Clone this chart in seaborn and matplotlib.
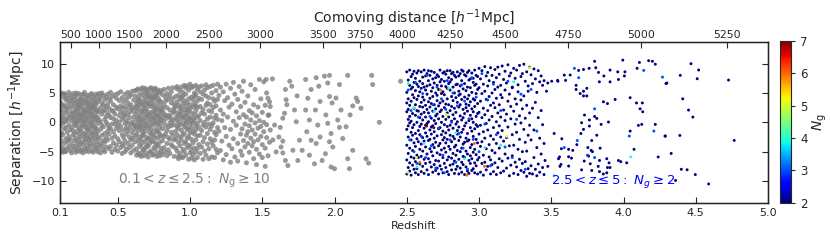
import numpy as np
import pandas as pd
import matplotlib
matplotlib.use("Agg")
import matplotlib.pyplot as plt
import seaborn as sns
from matplotlib.cm import ScalarMappable
from matplotlib.colors import Normalize

# ---------------- data ----------------
# grey sample, 0.1 < z <= 2.5 : dense band, one redshift slice per row (z, separations)
gray_band = [
    (0.10, [4.8, 2.1, -0.7, -3.9, 1.2, -2.6, 3.5]),
    (0.11, [-4.9, 0.4, 3.1, -1.8, 5.0, -3.2, 1.9]),
    (0.12, [2.7, -0.2, -4.4, 4.3, -2.1, 0.9, -5.1]),
    (0.13, [1.5, -3.6, 4.9, -1.1, 2.9, -4.7, 0.1]),
    (0.14, [-2.8, 3.8, 0.6, -5.0, 2.2, -0.9, 4.5]),
    (0.15, [0.3, -1.7, 4.1, -3.3, 1.8, -4.5, 2.6]),
    (0.16, [3.3, -4.1, 1.1, -2.4, 5.1, -0.5, -3.0]),
    (0.17, [-1.3, 2.4, -4.8, 4.6, 0.8, -2.9, 3.7]),
    (0.18, [4.2, -0.8, 1.6, -3.7, -5.2, 2.9, 0.2]),
    (0.19, [-2.2, 0.9, 3.6, -4.2, 4.9, -1.4, 1.7]),
    (0.20, [1.0, -3.1, 4.4, -0.3, 2.5, -4.6, 3.2, -1.9, 0.5]),
    (0.21, [-0.6, 3.9, -2.7, 5.0, 1.4, -4.0, 2.0, -5.1, 0.0]),
    (0.22, [2.8, -1.5, 4.7, -3.5, 0.7, -0.1, 3.4, -4.8, 1.9]),
    (0.23, [-2.0, 1.3, 3.0, -4.3, 4.9, -0.9, 0.3, -3.0, 2.3]),
    (0.24, [4.0, -2.5, 0.8, -5.0, 2.6, -1.2, 3.6, -3.8, 1.5]),
    (0.25, [0.2, 2.9, -1.6, 4.5, -3.4, 1.1, -4.7, 3.9, -0.4]),
    (0.26, [-3.7, 1.7, 4.8, -0.7, 2.2, -2.3, 0.6, -5.2, 3.3]),
    (0.27, [2.0, -4.4, 3.7, 0.1, -1.9, 5.1, -2.9, 1.2, -0.5]),
    (0.28, [-1.0, 4.3, -3.2, 1.6, 2.7, -4.9, 0.4, 3.5, -2.2]),
    (0.29, [3.1, -0.2, -2.6, 4.6, 1.0, -3.9, 2.1, -1.3, -4.5]),
    (0.30, [0.7, -3.0, 2.5, -1.7, 4.1, -5.0, 3.4, -0.8, 1.8]),
    (0.31, [-2.4, 4.7, 0.0, -4.1, 1.5, 3.0, -1.1, 2.3, -3.5]),
    (0.32, [1.3, -1.8, 3.8, -4.8, 0.5, 2.6, -2.9, 4.9, -0.3]),
    (0.33, [4.4, -2.1, 1.9, -0.6, -3.7, 3.2, 0.9, -5.1, 2.4]),
    (0.34, [-0.9, 2.8, -4.2, 4.0, 1.1, -2.7, 0.2, 3.6, -1.4]),
    (0.35, [2.2, -3.3, 0.6, 4.8, -1.0, -4.6, 1.7, 3.1, -2.0]),
    (0.36, [-1.6, 3.5, -0.2, -3.8, 2.0, 4.5, -2.5, 0.9, -5.0]),
    (0.37, [0.4, -2.8, 3.9, -4.4, 1.8, 4.9]),
    (0.38, [-1.2, 2.5, -3.6, 4.2, 0.1, -5.2]),
    (0.39, [3.3, -0.5, -4.0, 1.4, -2.2, 5.0]),
    (0.40, [-3.1, 1.9, 4.6, -0.8, 2.9, -4.7]),
    (0.41, [2.1, -1.9, 0.5, -3.4, 3.8, -5.0]),
    (0.42, [4.3, -2.6, 1.0, -4.2, 0.0, 2.7]),
    (0.43, [-0.4, 3.1, -3.0, 4.8, -1.5, 1.6]),
    (0.44, [1.2, -4.5, 2.4, -0.9, 4.0, -2.0]),
    (0.45, [3.6, -1.1, -4.1, 0.8, 5.1]),
    (0.46, [-2.7, 2.0, -0.3, 4.4, -5.1]),
    (0.47, [0.6, -3.5, 3.0, -1.6, 1.9]),
    (0.48, [4.7, -2.3, 1.4, -4.6, -0.2]),
    (0.49, [-1.0, 2.6, -3.9, 0.3, 4.1]),
    (0.50, [2.3, -0.6, -2.8, 4.9, -4.9]),
    (0.51, [-3.3, 1.1, 3.7, -1.4, 0.0]),
    (0.52, [1.7, -4.3, 2.8, -0.7, 5.2]),
    (0.53, [-2.1, 0.5, 4.2, -3.7, 2.4, -5.3]),
    (0.54, [3.5, -1.3, 0.9, -4.0, 1.6, -2.6]),
    (0.55, [-0.2, 2.7, -3.2, 4.8, -5.0, 1.2]),
    (0.56, [4.0, -2.0, 0.3, -4.6, 2.1, -0.9]),
    (0.57, [1.4, -3.6, 3.3, -1.5, 5.1, -0.1]),
    (0.58, [-2.5, 0.8, 2.6, -4.3, 4.4, -1.0]),
    (0.59, [3.0, -0.4, -3.0, 1.8, -5.2, 4.7]),
    (0.60, [-1.8, 2.2, 0.1, -3.9, 5.3, -2.7]),
    (0.61, [0.9, -4.8, 3.8, -1.2, 2.5, -0.3]),
    (0.62, [4.5, -2.4, 1.5, -3.3, -0.6, 5.4]),
    (0.63, [-0.8, 3.2, -4.5, 1.9, 5.5, -2.0, 0.4, -5.6, 2.7]),
    (0.64, [2.4, -1.4, 4.1, -3.1, 0.9, -5.2, 3.6, -0.2, 5.7]),
    (0.65, [-3.8, 1.2, -0.7, 4.8, -2.5, 2.9, -5.5, 0.3, 3.9]),
    (0.66, [0.6, -2.9, 3.4, -4.2, 5.6, -1.1, 1.8, -0.4, -5.8]),
    (0.67, [4.6, -1.7, 2.1, -3.5, 0.0, -5.0, 3.1, 5.9, -2.3]),
    (0.68, [-0.9, 3.7, -4.7, 1.4, 2.6, -2.1, 5.2, -5.7, 0.7]),
    (0.69, [1.9, -3.2, 0.2, 4.3, -1.5, -4.4, 3.0, 5.8, -0.6]),
    (0.70, [-2.6, 2.3, 4.9, -0.3, 1.1, -5.3, 3.5, -3.9, 5.5]),
    (0.71, [3.2, -1.0, -4.1, 0.8, 5.0, -2.8, 1.6, -5.9, 4.2]),
    (0.72, [0.1, -3.6, 2.8, -1.8, 4.5, -5.1, 5.7, -0.7, 1.3]),
    (0.73, [-1.3, 4.0, -2.4, 1.7, -4.9, 3.3, 0.5, 5.9, -3.0]),
    (0.74, [2.6, -0.5, -3.3, 5.3, -5.6, 1.0, 3.8, -1.9, 4.6]),
    (0.75, [-4.3, 0.7, 3.0, -2.2, 5.6, -0.1, 1.9, -5.4, 4.2]),
    (0.76, [1.5, -2.7, 4.4, -4.6, 0.3, 2.4, -1.2, 5.8, -3.5]),
    (0.77, [-0.4, 3.6, -3.9, 1.2, 5.1, -5.8, 2.2, -1.6, 4.8]),
    (0.78, [4.1, -1.5, 0.9, -4.0, 2.9, -2.6, 5.5, -5.2, 0.0]),
    (0.79, [-2.0, 2.0, 5.0, -3.4, 0.6, -5.7, 3.7, -0.8, 1.4]),
    (0.80, [3.4, -0.2, -4.5, 1.8, -2.3, 5.4, 0.4, -5.0, 2.5]),
    (0.81, [-1.1, 4.7, -3.1, 0.9, 2.2, -5.5]),
    (0.82, [2.9, -2.4, 0.2, -4.3, 5.6, 1.5]),
    (0.83, [-0.5, 3.6, -5.0, 1.1, -2.0, 4.3]),
    (0.84, [4.9, -3.6, 0.7, -1.4, 2.5, -5.7]),
    (0.85, [1.2, -0.8, 3.9, -4.7, 5.8, -2.6]),
    (0.86, [-2.9, 2.1, -0.1, 4.5, -5.3, 1.0]),
    (0.87, [3.3, -1.7, 0.5, -3.8, 5.2, -0.6]),
    (0.88, [-4.1, 1.6, 4.0, -2.2, 0.3, 5.9]),
    (0.89, [2.4, -3.0, -0.4, 3.1, -5.8, 1.9]),
    (0.90, [-1.5, 4.4, 0.8, -4.4, 2.7, -2.8]),
    (0.91, [0.4, -2.1, 3.5, -4.9, 5.7, 1.6, -0.7, 6.1]),
    (0.92, [4.6, -3.4, 1.1, -1.0, 2.9, -5.8, 0.0, -6.2]),
    (0.93, [-2.5, 2.3, 5.4, -0.4, -4.0, 3.9, 1.4, -5.3]),
    (0.94, [1.8, -1.4, 4.2, -3.0, 0.6, 6.0, -5.9, 2.6]),
    (0.95, [-0.2, 3.2, -4.6, 5.1, -2.2, 1.0, -6.0, 4.5]),
    (0.96, [3.7, -1.9, 0.9, -3.6, 6.3, 2.1, -0.8, -5.0]),
    (0.97, [-3.3, 1.5, 4.8, -0.5, 2.8, -5.6, 0.3, 5.9]),
    (0.98, [2.2, -2.7, 0.1, 3.4, -4.3, 6.2, -1.2, 1.2]),
    (0.99, [-1.1, 4.0, -3.9, 1.9, 5.5, -6.3, 0.6, -2.4]),
    (1.00, [0.8, -0.3, 3.0, -5.2, 6.5, -1.8, 2.4, -4.1]),
    (1.01, [4.3, -2.9, 1.6, -0.9, 5.9, -4.8, 0.2, -6.1]),
    (1.02, [-1.6, 2.6, -3.5, 6.1, 0.7, 3.8, -5.5, -0.1]),
    (1.03, [3.1, -4.4, 0.4, 5.0, -2.0, 1.3, -6.4, 4.4]),
    (1.04, [-0.6, 1.9, -3.0, 4.7, -5.1, 6.3, 2.8, -1.3]),
    (1.05, [2.5, -2.3, 5.6, -0.2, -4.5, 0.9, 3.6, -6.0]),
    (1.06, [-3.8, 1.1, 4.1, -0.9, 6.0]),
    (1.07, [0.3, -5.3, 2.7, -2.2, 5.2]),
    (1.08, [3.9, -1.4, -4.2, 1.6, 6.2]),
    (1.09, [-0.5, 2.2, -3.3, 4.8, -6.3]),
    (1.10, [1.4, -2.6, 5.5, -4.9, 0.0]),
    (1.11, [4.5, -0.8, -5.6, 2.9, 6.4]),
    (1.12, [-1.9, 3.3, 0.6, -3.7, 5.9]),
    (1.13, [2.0, -4.5, 4.2, -0.3, -6.2]),
    (1.14, [-2.8, 0.9, 6.1, -1.2, 3.0]),
    (1.15, [5.0, -3.4, 1.8, -5.9, -0.6]),
    (1.16, [-0.1, 2.5, -4.0, 6.3, 4.0]),
    (1.17, [3.6, -1.7, -6.0, 0.7, -3.0]),
    (1.18, [-4.6, 1.2, 5.4, -2.1, 2.8]),
    (1.19, [0.5, -0.9, 3.9, -5.2, 6.5]),
]

# grey sample, thinner part (z, separation)
gray_mid = [
    (1.20, 4.6), (1.20, -1.5), (1.21, 2.1), (1.21, -4.8), (1.21, 6.0), (1.22, 0.3),
    (1.22, -3.2), (1.23, 5.2), (1.23, -6.4), (1.23, 1.4), (1.24, -0.9), (1.24, 3.7),
    (1.25, -5.5), (1.25, 6.5), (1.25, -2.4), (1.26, 0.9), (1.26, 4.2), (1.27, -3.9),
    (1.27, 2.6), (1.28, -6.8), (1.28, -1.2), (1.28, 5.8), (1.29, 3.1), (1.29, -4.5),
    (1.30, 0.2), (1.30, 6.8), (1.30, -2.8), (1.31, -5.9), (1.31, 4.8), (1.32, 1.8),
    (1.32, -0.5), (1.33, -3.6), (1.33, 3.9), (1.33, -6.6), (1.34, 6.1), (1.34, 0.8),
    (1.35, -2.0), (1.35, -4.9), (1.35, 2.7), (1.36, -1.1), (1.36, 5.3), (1.36, -5.6),
    (1.37, 1.3), (1.37, -3.1), (1.37, 7.0), (1.38, -0.3), (1.38, -4.2), (1.38, 3.4),
    (1.39, -2.2), (1.39, -6.9), (1.39, 0.9), (1.40, 4.5), (1.40, -1.6), (1.40, -3.6),
    (1.41, 2.0), (1.41, -5.1), (1.41, -0.6), (1.42, 6.4), (1.42, -2.7), (1.42, 0.4),
    (1.43, -4.0), (1.43, 1.6), (1.43, -1.3), (1.44, 3.0), (1.44, -6.2), (1.44, -3.3),
    (1.45, -0.1), (1.45, -2.0), (1.45, 5.6), (1.46, 1.1), (1.46, -4.6), (1.46, -7.2),
    (1.47, -1.0), (1.47, 2.6), (1.47, -3.0), (1.48, 7.3), (1.48, -5.4), (1.48, 0.3),
    (1.49, -2.4), (1.49, 4.0), (1.49, -0.7), (1.50, -3.8), (1.50, 1.7), (1.50, -6.0),
    (1.51, -1.6), (1.51, 6.9), (1.51, 0.0), (1.52, -4.4), (1.52, 2.9), (1.52, -7.5),
    (1.53, -2.6), (1.53, 5.0), (1.53, -0.4), (1.54, 1.2), (1.54, -5.7), (1.55, -3.4),
    (1.55, 3.5),
]

gray_sparse = [
    (1.527, 7.3), (1.57, 7.4), (1.665, 3.85), (1.66, 5.6), (1.67, 3.0), (1.69, 7.0),
    (1.704, 6.15), (1.654, 1.55), (1.642, 0.7), (1.624, -0.86), (1.615, -2.5),
    (1.642, -3.2), (1.63, -4.2), (1.642, -5.2), (1.66, -6.5), (1.677, -7.36),
    (1.596, -5.05), (1.573, -3.0), (1.555, -1.3), (1.585, -0.46), (1.546, 1.26),
    (1.555, 2.7), (1.539, 4.1), (1.735, 0.1), (1.723, 2.1), (1.741, 4.5),
    (1.757, -3.05), (1.776, -4.77), (1.746, -6.5), (1.712, -4.77), (1.80, 7.3),
    (1.815, 4.1), (1.838, 5.6), (1.80, 2.1), (1.826, 0.4), (1.808, -1.6),
    (1.838, -3.05), (1.826, -5.6), (1.861, -7.07), (1.873, 7.6), (1.891, 6.15),
    (1.90, 3.56), (1.868, 2.1), (1.884, -0.46), (1.90, -2.5), (1.873, -3.6),
    (1.914, -6.5), (1.93, 7.87), (1.965, 8.0), (1.953, 6.7), (1.965, 4.4),
    (1.983, 3.3), (1.94, 1.26), (1.953, -0.17), (1.976, -1.9), (1.965, -3.3),
    (1.988, -4.2), (1.937, -5.34), (1.976, -7.6), (2.0, -7.9), (2.01, 4.14),
    (2.034, 6.44), (2.045, 2.1), (2.022, 0.4), (2.034, -0.86), (2.057, -2.76),
    (2.091, 8.0), (2.08, -0.75), (2.091, -6.2), (2.103, -7.9), (2.126, -4.77),
    (2.108, 1.26), (2.15, 4.14), (2.16, 3.56), (2.183, 2.4), (2.218, -6.2),
    (2.236, -6.95), (2.257, 8.0), (2.264, 6.44), (2.31, 0.0), (2.126, 2.8),
    (2.457, 7.0),
]

# coloured sample, 2.5 < z <= 5 : N_g = 2, dense slices (z, separations)
ng2_band = [
    (2.50, [8.6, 5.1, 1.8, -1.2, -3.9, -6.4, -8.8, 3.3]),
    (2.51, [7.2, 4.0, 0.5, -2.5, -5.3, -7.7, 2.2, -0.6]),
    (2.52, [8.9, 6.3, 2.9, -0.1, -4.4, -6.9, 1.0, -8.3]),
    (2.53, [5.7, 3.6, -1.7, -3.0, -5.9, 7.8, 0.2, -9.0]),
    (2.54, [8.2, 4.7, 1.5, -2.2, -4.8, -7.3, 6.0, -0.9]),
    (2.55, [6.8, 2.4, -0.4, -3.5, -6.1, 8.7, -8.0, 4.2]),
    (2.56, [7.5, 5.4, 1.2, -1.9, -4.1, -6.7, 3.0, -8.6]),
    (2.57, [8.4, 3.9, 0.0, -2.8, -5.6, -7.9, 6.5, 2.0]),
    (2.58, [6.1, 4.5, 1.9, -1.4, -3.3, -6.0, 8.8, -8.9]),
    (2.59, [7.0, 2.7, -0.7, -4.6, -7.1, 5.2, 0.8, -2.1]),
    (2.60, [8.6, 5.8, 3.4, -0.3, -3.7, -5.8, -8.4, 1.4]),
    (2.61, [7.7, 4.3, 0.4, -2.6, -4.9, -7.5, 2.6, 6.6]),
    (2.62, [8.9, 6.0, 1.7, -1.0, -3.2, -6.3, -8.7, 3.8]),
    (2.63, [5.5, 2.9, -0.5, -4.2, -7.0, 7.9, -1.8, 0.9]),
    (2.64, [8.3, 4.8, 2.2, -2.4, -5.4, -8.1, 6.2, -0.2]),
    (2.65, [7.1, 3.5, 0.1, -3.1, -6.2, 8.8, -8.9, 1.6]),
    (2.66, [6.4, 4.1, 2.6, -1.3, -4.5, -6.8, 8.0, -2.9]),
    (2.67, [8.7, 5.3, 0.7, -2.0, -5.0, -7.6, 3.2, -0.8]),
    (2.68, [7.4, 1.9, -0.6, -3.8, -5.7, -8.5, 5.9, 4.4]),
    (2.69, [8.5, 6.7, 3.0, -1.6, -4.3, -7.2, 0.3, -2.7]),
    (2.70, [5.0, 2.3, -0.2, -3.4, -6.5, 7.6, -8.2, 1.1]),
    (2.71, [8.1, 4.6, 1.4, -2.3, -5.2, 6.3, -7.8, 3.7]),
    (2.72, [7.8, 5.6, 0.6, -1.1, -4.0, -6.6, -8.8, 2.8]),
    (2.73, [8.9, 3.3, -0.9, -3.6, -5.5, 6.9, 1.8, -7.4]),
    (2.74, [6.2, 4.9, 2.1, -2.1, -4.7, -8.0, 7.3, 0.0]),
    (2.75, [8.4, 5.2, 1.0, -1.5, -3.0, -6.0, -8.6, 3.6]),
    (2.76, [7.0, 2.5, -0.4, -4.4, -7.0, 8.6, 4.7, -2.6]),
    (2.77, [8.2, 6.1, 3.1, -1.8, -5.1, -7.7, 0.5, -3.5]),
    (2.78, [5.8, 4.0, 1.6, -0.7, -2.9, -6.4, 8.8, -8.4]),
    (2.79, [7.6, 3.0, -1.3, -4.1, -5.9, 6.6, 0.9, -8.9]),
    (2.80, [8.8, 5.5, 2.0, -2.2, -4.6, -7.3, 6.9, -0.5]),
    (2.81, [7.3, 4.4, 0.2, -3.3, -6.1, 8.3, -8.1, 2.7]),
    (2.82, [6.0, 3.7, 1.3, -1.0, -5.3, -7.1, 8.5, -2.4]),
    (2.83, [8.0, 5.0, 2.4, -2.8, -4.2, -6.6, -8.7, 0.6]),
    (2.84, [7.7, 4.2, -0.3, -3.9, -5.6, 6.4, 1.7, -8.0]),
    (2.85, [8.6, 6.5, 3.4, -1.4, -4.8, -7.5, 0.1, -2.0]),
    (2.86, [5.3, 2.6, -0.8, -3.1, -6.3, 7.9, -8.8, 4.6]),
    (2.87, [8.3, 4.8, 1.1, -2.5, -5.0, -7.8, 6.2, 3.0]),
    (2.88, [7.1, 3.9, 0.4, -1.7, -4.4, -6.8, 8.9, -8.5]),
    (2.89, [8.7, 5.7, 2.2, -3.7, -5.8, -7.2, 0.8, -1.2]),
    (2.90, [6.6, 4.3, 1.5, -0.6, -3.4, -6.0, 8.1, -8.9]),
    (2.91, [7.9, 3.1, -0.1, -2.7, -4.9, -7.6, 5.4, 2.5]),
    (2.92, [8.5, 6.0, 1.9, -1.9, -5.4, -8.3, 4.0, -3.2]),
    (2.93, [7.2, 4.6, 0.3, -3.0, -6.5, 8.8, -8.7, 2.9]),
    (2.94, [5.9, 3.5, -0.9, -4.3, -5.7, 7.4, 1.2, -7.0]),
    (2.95, [8.4, 5.1, 2.3, -1.5, -3.8, -6.2, -8.2, 0.6]),
    (2.96, [7.5, 4.0, 0.0, -2.4, -5.1, 6.8, -7.9, 1.8]),
    (2.97, [8.9, 6.3, 2.7, -1.1, -4.6, -6.9, 3.8, -8.6]),
    (2.98, [6.5, 4.9, 1.0, -2.9, -5.5, 8.0, -0.4, -7.4]),
    (2.99, [7.8, 3.2, -0.7, -3.5, -6.4, 5.6, 1.5, -8.8]),
    (3.00, [9.2, 5.9, 1.7, -2.0, -6.0]),
    (3.01, [7.4, 3.6, -0.5, -4.1, -8.5]),
    (3.02, [8.8, 4.9, 0.8, -3.3, -7.0]),
    (3.03, [6.5, 2.4, -1.6, -5.6, -9.0]),
    (3.04, [9.5, 5.3, 1.3, -2.7, -6.8]),
    (3.05, [7.9, 3.9, -0.2, -4.5, -8.1]),
    (3.06, [8.5, 6.2, 2.0, -1.3, -7.5]),
    (3.07, [7.1, 4.4, 0.4, -3.8, -5.9]),
    (3.08, [9.3, 2.9, -2.3, -6.4, -8.8]),
    (3.09, [8.0, 5.0, 1.0, -4.8, -7.2]),
    (3.10, [6.8, 3.3, -0.9, -2.9, -8.4]),
    (3.11, [9.0, 5.6, 2.5, -5.2, -6.9]),
    (3.12, [7.6, 4.1, 0.1, -3.6, -8.9]),
    (3.13, [9.4, 6.0, 1.6, -1.8, -7.7]),
    (3.14, [8.2, 3.0, -0.6, -4.4, -6.2]),
    (3.15, [6.3, 4.7, 0.9, -2.5, -8.6]),
    (3.16, [9.6, 4.2, -1.4, -6.6]),
    (3.17, [7.3, 2.1, -3.2, -8.3]),
    (3.18, [8.7, 5.5, 0.3, -5.4]),
    (3.19, [6.7, 1.4, -2.6, -7.8]),
    (3.20, [9.8, 3.6, -0.8, -6.1]),
    (3.21, [7.9, 4.8, -4.0, -9.1]),
    (3.22, [8.4, 2.7, 0.6, -7.3]),
    (3.23, [6.0, 5.9, -2.1, -5.7]),
    (3.24, [9.2, 1.9, -3.9, -8.7]),
    (3.25, [7.5, 4.0, -0.3, -6.8]),
    (3.26, [8.9, 3.1, -1.7, -7.6]),
    (3.27, [6.4, 5.2, -4.6, -8.9]),
    (3.28, [9.7, 1.1, -2.9, -6.3]),
    (3.29, [7.8, 3.8, -0.1, -8.2]),
    (3.30, [8.3, 2.3, -5.0, -7.0]),
    (3.31, [9.9, 4.5, -1.2, -8.5]),
    (3.32, [7.0, 0.7, -3.4, -6.7]),
    (3.33, [8.6, 2.9, -4.9, -9.2]),
    (3.34, [6.2, 5.3, -2.2, -7.9]),
    (3.35, [9.4, 1.6, -0.5, -8.7]),
    (3.36, [8.1, -3.0, -7.4]),
    (3.37, [6.6, 2.4, -8.8]),
    (3.38, [9.1, -1.3, -6.0]),
    (3.39, [7.4, 3.4, -8.0]),
    (3.40, [5.1, -4.3, -9.1]),
    (3.41, [8.8, 0.8, -7.1]),
    (3.42, [6.9, -2.7, -8.5]),
    (3.43, [7.9, 2.0, -5.4]),
    (3.44, [6.3, -0.4, -7.7]),
    (3.45, [7.1, -3.6, -8.9]),
]

ng2_sparse = [
    (3.476, 6.7), (3.467, 5.3), (3.457, -6.5), (3.476, -7.5), (3.503, 7.0),
    (3.546, 7.0), (3.52, -1.9), (3.57, -4.5), (3.55, -6.2), (3.56, -7.5),
    (3.59, 8.05), (3.64, -6.1), (3.71, -8.1), (3.78, -8.2), (3.825, -7.5),
    (3.86, -8.8), (3.80, 10.4), (3.995, 10.6), (4.11, 10.2), (4.174, 10.5),
    (4.20, 10.4), (4.22, 9.9), (3.689, 8.85), (3.723, 9.0), (3.762, 9.2),
    (3.808, 9.3), (3.907, 8.9), (3.96, 8.6), (4.01, 8.6), (4.094, 9.2),
    (3.631, 8.06), (3.599, 7.15), (3.544, 7.15), (3.827, 8.5), (3.864, 7.9),
    (3.833, 6.9), (3.907, 6.9), (3.965, 7.3), (4.006, 7.9), (3.672, 6.3),
    (3.672, 5.6), (3.746, 5.8), (3.723, 5.3), (3.70, 4.9), (3.723, 4.5),
    (3.746, 4.5), (4.294, 6.6), (3.861, 3.5), (3.889, 3.2), (3.942, 3.9),
    (4.046, 4.2), (4.09, 3.3), (4.13, 3.3), (4.115, 2.3), (4.133, 1.8),
    (3.73, 1.24), (3.80, 1.0), (3.815, 0.67), (3.764, 0.4), (3.71, -0.07),
    (3.764, -0.64), (3.845, -0.35), (3.896, 0.05), (4.103, -0.52), (4.126, -0.35),
    (4.22, -0.35), (4.046, -1.49), (4.287, -2.34), (3.723, -1.2), (3.705, -1.9),
    (3.815, -2.2), (3.573, -2.8), (3.677, -3.8), (3.62, -4.6), (3.649, -4.78),
    (3.78, -3.1), (3.753, -4.3), (3.776, -4.78), (3.838, -4.4), (3.785, -5.0),
    (3.758, -5.75), (3.557, -5.9), (3.62, -5.86), (3.567, -7.17), (3.62, -7.45),
    (3.728, -6.6), (3.77, -7.06), (3.834, -6.5), (3.884, -6.2), (3.90, -6.9),
    (3.889, -7.7), (3.907, -7.7), (3.834, -8.4), (3.884, -8.6), (3.965, -6.5),
    (3.981, -6.7), (4.022, -6.9), (4.073, -4.6), (4.24, -5.9), (4.467, 9.99),
    (4.52, 8.91), (4.393, 8.0), (4.51, 7.43), (4.727, 7.2), (4.30, 6.7),
    (4.41, 4.0), (4.45, 2.09), (4.48, 0.9), (4.29, -2.34), (4.39, -2.23),
    (4.766, -3.08), (4.33, -5.3), (4.40, -8.0), (4.44, -8.08), (4.497, -8.9),
    (4.36, -9.9), (4.589, -10.5),
]

ng3_pts = [
    (2.51, 5.5), (2.52, -3.0), (2.53, 2.0), (2.55, -5.0), (2.56, 6.8), (2.57, -7.0),
    (2.58, 0.9), (2.60, -2.4), (2.61, 4.9), (2.63, -6.0), (2.64, 8.0), (2.66, 1.0),
    (2.67, -4.0), (2.68, 3.0), (2.70, -7.8), (2.71, 6.0), (2.72, -1.0), (2.74, 4.0),
    (2.75, -5.6), (2.76, -8.6), (2.77, 2.2), (2.78, 7.1), (2.80, -3.0), (2.81, 0.0),
    (2.82, 5.0), (2.84, -6.8), (2.85, 2.8), (2.86, -1.9), (2.88, 6.4), (2.89, -4.4),
    (2.90, 3.6), (2.92, -8.0), (2.93, 0.6), (2.95, 7.6), (2.96, -2.9), (2.98, 4.3),
    (3.00, -5.0), (3.02, 8.3), (3.04, -0.3), (3.06, 3.8), (3.08, -7.4), (3.10, 6.5),
    (3.12, -2.1), (3.15, 2.0), (3.18, -4.2), (3.20, 7.0), (3.23, -6.0), (3.26, 0.5),
    (3.29, 4.8), (3.32, -8.0), (3.36, 5.6), (3.40, -1.5), (3.66, 9.2), (3.69, 7.6),
    (3.80, 2.3), (3.80, -6.0), (3.75, -5.6), (3.68, -3.1), (3.59, -4.3),
    (4.04, -2.34), (4.14, 8.85), (4.21, -1.49), (4.27, 7.7),
]
ng4_pts = [
    (2.51, 6.6), (2.55, 2.5), (2.57, -7.6), (2.62, -3.6), (2.69, 1.8), (2.79, 5.8),
    (2.84, -1.8), (2.90, -6.2), (3.04, -4.3), (3.15, -3.9), (3.24, 6.9),
    (3.52, -9.1), (4.05, -5.9),
]
ng5_pts = [(2.505, -8.5), (2.567, -6.0), (2.776, 1.3), (3.19, -2.4), (3.35, 9.3)]
ng6_pts = [(2.733, 5.5), (2.59, -6.8), (2.968, -3.6), (2.915, -9.0), (3.038, -7.5)]
ng7_pts = [(2.637, -0.64), (2.687, -0.92)]

# upper axis: comoving distance labels [h^-1 Mpc]
dist_ticks = [500, 1000, 1500, 2000, 2500, 3000, 3500, 3750, 4000, 4250, 4500, 4750, 5000, 5250]
z_ticks = [0.1, 0.5, 1.0, 1.5, 2.0, 2.5, 3.0, 3.5, 4.0, 4.5, 5.0]
sep_ticks = [-10, -5, 0, 5, 10]
omega_m = 0.315

# ---------------- assemble ----------------
gray_z = [z for z, seps in gray_band for _ in seps] + [p[0] for p in gray_mid + gray_sparse]
gray_sep = [s for z, seps in gray_band for s in seps] + [p[1] for p in gray_mid + gray_sparse]

rows = [(z, s, 2) for z, seps in ng2_band for s in seps]
rows += [(z, s, 2) for z, s in ng2_sparse]
for ng, pts in [(3, ng3_pts), (4, ng4_pts), (5, ng5_pts), (6, ng6_pts), (7, ng7_pts)]:
    rows += [(z, s, ng) for z, s in pts]
hiz = pd.DataFrame(rows, columns=["z", "sep", "ng"]).sort_values("ng", kind="stable")

# comoving distance (flat LCDM) to place the upper ticks
zz = np.linspace(0, 6, 6001)
inv_e = 1.0 / np.sqrt(omega_m * (1 + zz) ** 3 + 1 - omega_m)
dc = 2997.92458 * np.concatenate([[0], np.cumsum(0.5 * (inv_e[1:] + inv_e[:-1]) * np.diff(zz))])
top_z = np.interp(dist_ticks, dc, zz)

# ---------------- plot ----------------
sns.set_style("ticks")
plt.rcParams["font.family"] = ["DejaVu Sans"]
plt.rcParams["mathtext.fontset"] = "dejavusans"
jet = matplotlib.colormaps["jet"]

fig = plt.figure(figsize=(8.3, 2.42), dpi=100)
ax = fig.add_axes([0.0723, 0.161, 0.853, 0.667])
cax = fig.add_axes([0.9398, 0.1624, 0.0133, 0.669])

sns.scatterplot(x=gray_z, y=gray_sep, color="#808080", alpha=0.8, s=13,
                linewidth=0, edgecolor="none", ax=ax)
sns.scatterplot(data=hiz, x="z", y="sep", hue="ng", palette=jet, hue_norm=(2, 7),
                s=4.5, linewidth=0, edgecolor="none", legend=False, ax=ax)

ax.set_xlim(0.1, 5.0)
ax.set_ylim(-13.75, 13.75)
ax.set_xticks(z_ticks)
ax.set_xticklabels(["%.1f" % z for z in z_ticks])
ax.set_yticks(sep_ticks)
ax.tick_params(direction="in", right=True, top=False, labelsize=8, length=4, width=0.8)
ax.set_xlabel("Redshift", fontsize=8, labelpad=2)
ax.set_ylabel(r"Separation [$h^{-1}$Mpc]", fontsize=10, labelpad=3)
for sp in ax.spines.values():
    sp.set_color("black")
    sp.set_linewidth(1.0)

ax.text(0.5, -10.0, r"$0.1 < z \leq 2.5:\ N_{\rm g} \geq 10$", color="gray",
        fontsize=10, va="center")
ax.text(3.5, -10.0, r"$2.5 < z \leq 5:\ N_g \geq 2$", color="blue",
        fontsize=9.5, va="center")

ax2 = ax.twiny()
ax2.set_xlim(ax.get_xlim())
ax2.set_xticks(top_z)
ax2.set_xticklabels([str(d) for d in dist_ticks])
ax2.tick_params(direction="in", labelsize=7.8, length=4, width=0.8, pad=1.5)
ax2.set_xlabel(r"Comoving distance [$h^{-1}$Mpc]", fontsize=10, labelpad=5)

cb = fig.colorbar(ScalarMappable(norm=Normalize(2, 7), cmap=jet), cax=cax)
cb.set_ticks([2, 3, 4, 5, 6, 7])
cb.ax.tick_params(labelsize=8.5, length=3, width=0.8)
cb.set_label(r"$N_{\rm g}$", fontsize=10, labelpad=2)
cb.outline.set_linewidth(0.8)

fig.savefig("out.png", dpi=100)
